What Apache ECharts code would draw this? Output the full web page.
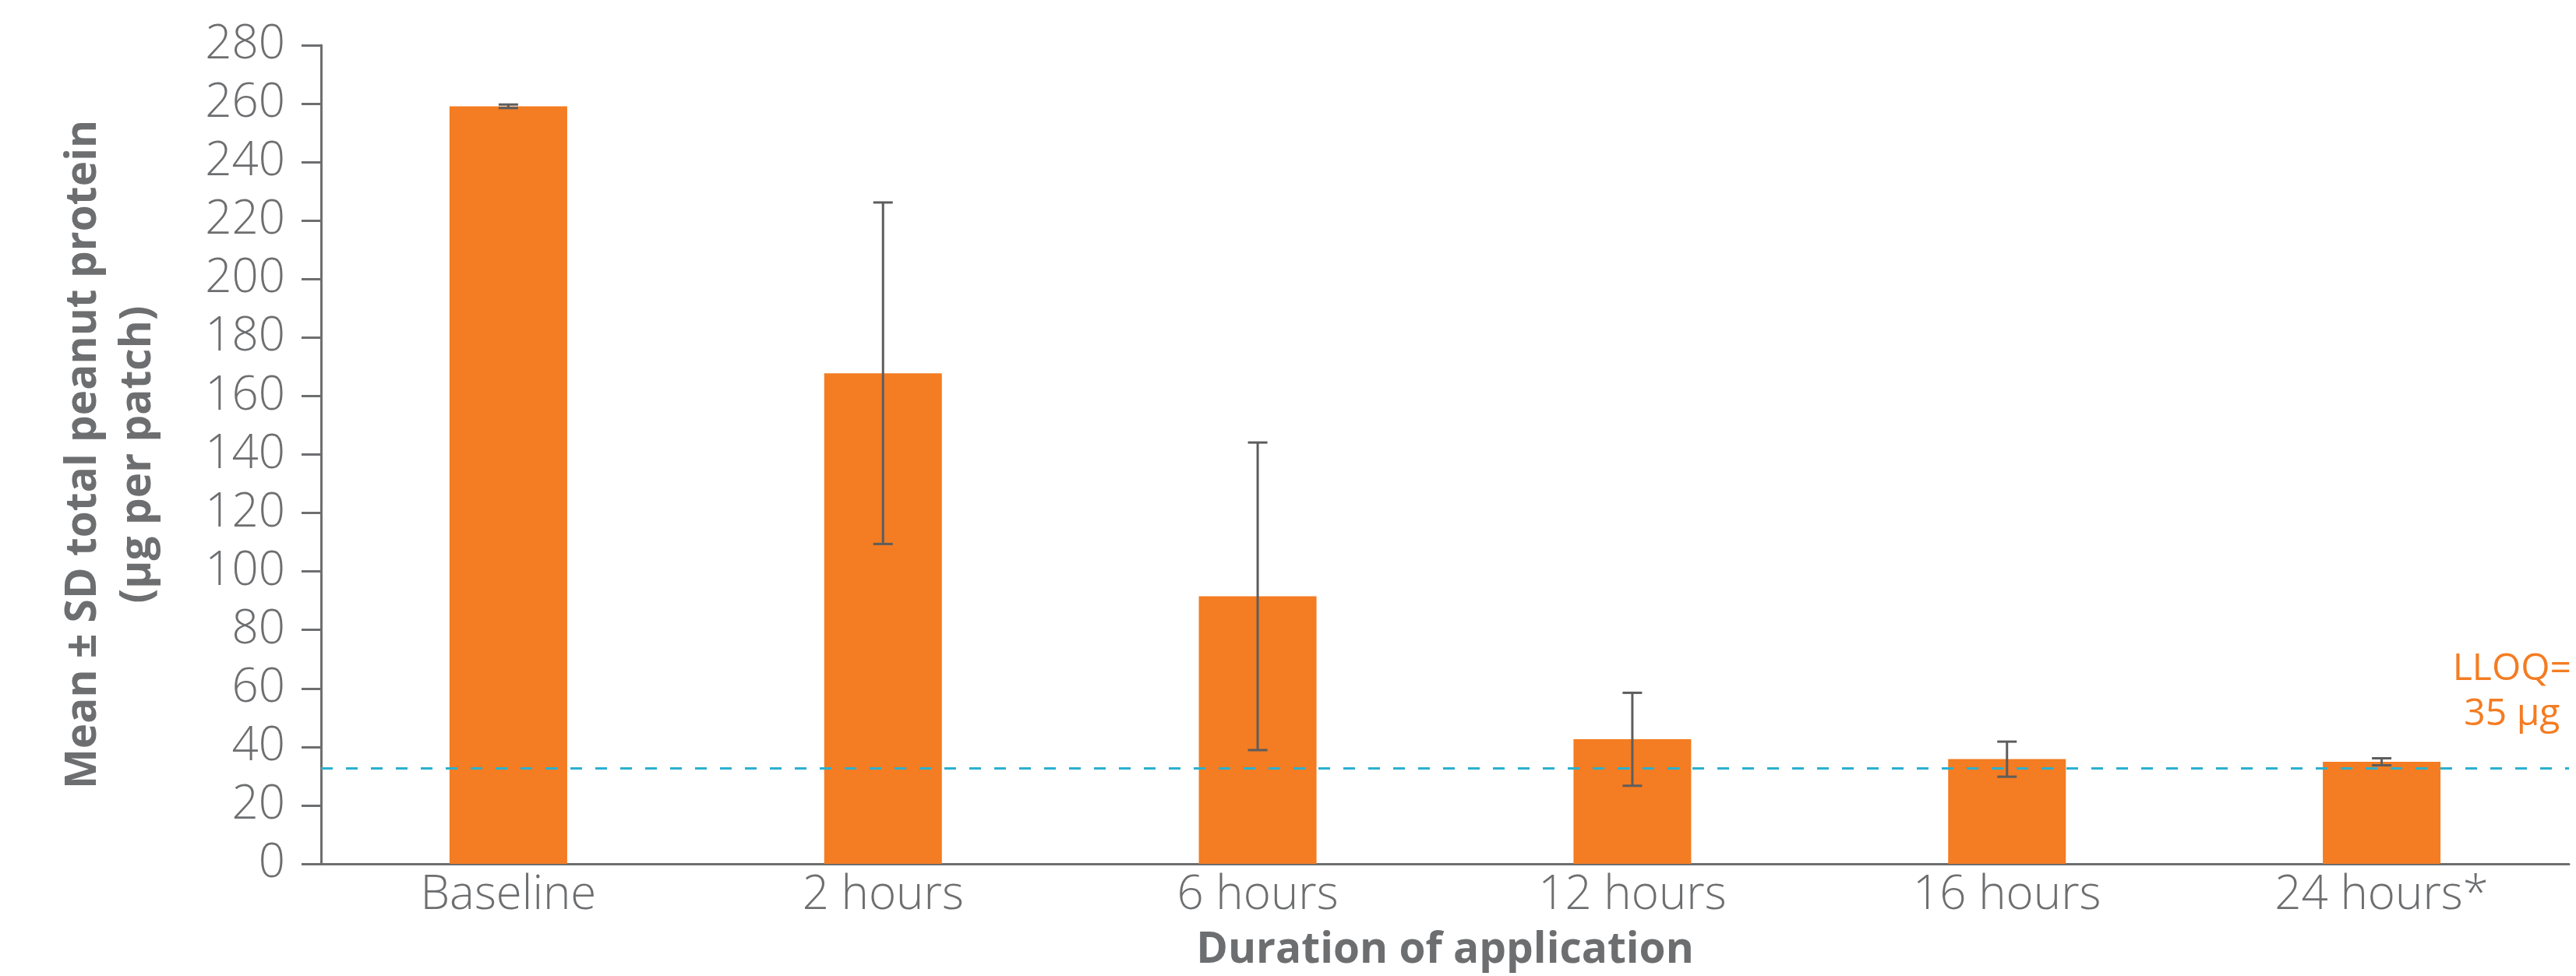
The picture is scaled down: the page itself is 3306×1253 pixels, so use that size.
<!DOCTYPE html>
<html>
<head>
<meta charset="utf-8">
<script src="https://cdn.jsdelivr.net/npm/echarts@6/dist/echarts.min.js"></script>
<style>
html,body{margin:0;padding:0;background:#fff;}
#chart{width:3306px;height:1253px;}
</style>
</head>
<body>
<div id="chart"></div>
<script>
// ---- data ----
const categories = ['Baseline', '2 hours', '6 hours', '12 hours', '16 hours', '24 hours*'];
const means = [259.1, 167.8, 91.5, 42.6, 35.8, 34.9];
const sds = [0.6, 58.4, 52.6, 15.9, 6.0, 1.2];
const yTicks = [0, 20, 40, 60, 80, 100, 120, 140, 160, 180, 200, 220, 240, 260, 280];
const lloqValue = 32.7;
const lloqText = ['LLOQ=', '35 µg'];
const yAxisTitle = ['Mean ± SD total peanut protein', '(µg per patch)'];
const xAxisTitle = 'Duration of application';

const GRAY = '#6d6e70';
const ORANGE = '#f47c22';
const ERR = '#5d5d5d';
const FONT = '"Open Sans", Lato, sans-serif';

const errData = categories.map((c, i) => [i, means[i] - sds[i], means[i] + sds[i]]);

const chart = echarts.init(document.getElementById('chart'), null, {renderer: 'canvas'});
chart.setOption({
  animation: false,
  backgroundColor: '#ffffff',
  grid: {left: 412, right: 9, top: 58, bottom: 136, containLabel: false},
  xAxis: {
    type: 'category',
    data: categories,
    boundaryGap: true,
    axisLine: {show: true, lineStyle: {color: GRAY, width: 3}},
    axisTick: {show: false},
    axisLabel: {color: GRAY, fontFamily: FONT, fontWeight: 300, fontSize: 60, lineHeight: 60, margin: 11},
    name: xAxisTitle,
    nameLocation: 'middle',
    nameGap: 84,
    nameTextStyle: {color: GRAY, fontFamily: FONT, fontWeight: 'bold', fontSize: 55, lineHeight: 55}
  },
  yAxis: {
    type: 'value',
    min: yTicks[0],
    max: yTicks[yTicks.length - 1],
    interval: yTicks[1] - yTicks[0],
    splitLine: {show: false},
    axisLine: {show: true, lineStyle: {color: GRAY, width: 3}},
    axisTick: {show: true, length: 25, lineStyle: {color: GRAY, width: 3}},
    axisLabel: {color: GRAY, fontFamily: FONT, fontWeight: 300, fontSize: 60, margin: 46},
    name: yAxisTitle.join('\n'),
    nameLocation: 'middle',
    nameGap: 200,
    nameRotate: 90,
    nameTextStyle: {color: GRAY, fontFamily: FONT, fontWeight: 'bold', fontSize: 55, lineHeight: 70, align: 'center'}
  },
  series: [
    {
      type: 'bar',
      data: means,
      barWidth: 151,
      itemStyle: {color: ORANGE},
      z: 2,
      markLine: {
        silent: true,
        symbol: ['none', 'none'],
        lineStyle: {color: '#2bb0cf', width: 3, type: [15, 17]},
        label: {show: false},
        data: [{yAxis: lloqValue}]
      }
    },
    {
      type: 'custom',
      data: errData,
      z: 5,
      renderItem: function (params, api) {
        const x = api.value(0);
        const lo = api.coord([x, api.value(1)]);
        const hi = api.coord([x, api.value(2)]);
        const half = 12.5;
        const style = {stroke: ERR, lineWidth: 3, fill: null};
        return {
          type: 'group',
          children: [
            {type: 'line', shape: {x1: hi[0], y1: hi[1], x2: lo[0], y2: lo[1]}, style: style},
            {type: 'line', shape: {x1: hi[0] - half, y1: hi[1], x2: hi[0] + half, y2: hi[1]}, style: style},
            {type: 'line', shape: {x1: lo[0] - half, y1: lo[1], x2: lo[0] + half, y2: lo[1]}, style: style}
          ]
        };
      }
    }
  ]
});

// LLOQ annotation placed relative to the line's pixel position from the y scale
const yPix = chart.convertToPixel({yAxisIndex: 0}, lloqValue);
chart.setOption({
  graphic: [{
    type: 'text',
    right: 6,
    bottom: chart.getHeight() - (yPix - 40),
    silent: true,
    style: {
      text: lloqText.join('\n'),
      fill: ORANGE,
      fontFamily: FONT,
      fontWeight: 'normal',
      fontSize: 48,
      lineHeight: 58,
      textAlign: 'center'
    }
  }]
});
</script>
</body>
</html>
